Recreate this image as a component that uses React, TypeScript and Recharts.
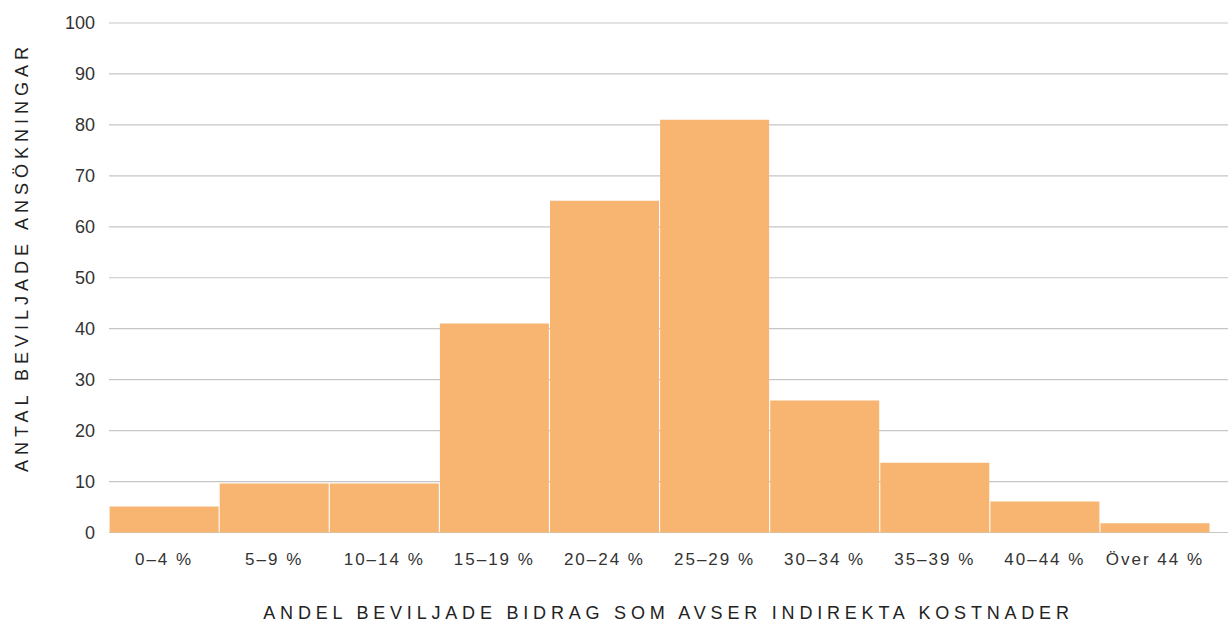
import { BarChart, Bar, XAxis, YAxis, CartesianGrid } from 'recharts';

const CATEGORIES = ['0–4 %', '5–9 %', '10–14 %', '15–19 %', '20–24 %', '25–29 %', '30–34 %', '35–39 %', '40–44 %', 'Över 44 %'];
const COUNTS = [5.1, 9.6, 9.6, 41, 65.1, 81, 25.9, 13.7, 6.1, 1.8];
const Y_TICKS = [0, 10, 20, 30, 40, 50, 60, 70, 80, 90, 100];

const FONT = '"Liberation Sans", Arial, sans-serif';

const data = CATEGORIES.map((name, i) => ({ name, value: COUNTS[i] }));

const YTitle = () => (
  <text
    x={22}
    y={257}
    transform='rotate(-90 22 257)'
    textAnchor='middle'
    dominantBaseline='central'
    fill='#222'
    style={{ fontFamily: FONT, fontSize: 18, letterSpacing: 5 }}
  >
    ANTAL BEVILJADE ANSÖKNINGAR
  </text>
);

export default function App() {
  return (
    <div style={{ position: 'absolute', left: 0, top: 0, width: 1228, height: 624, background: '#fff' }}>
      <BarChart
        width={1228}
        height={624}
        data={data}
        margin={{ top: 23, right: 0, bottom: 0, left: 0 }}
        barCategoryGap={0.6}
      >
        <CartesianGrid vertical={false} stroke='#c6c6c6' strokeWidth={1.2} />
        <XAxis
          dataKey='name'
          axisLine={false}
          tickLine={false}
          tickSize={0}
          tickMargin={20}
          height={91.5}
          padding={{ left: 0, right: 18 }}
          interval={0}
          tick={{ fill: '#333', fontSize: 17, fontFamily: FONT, letterSpacing: 2 }}
          label={{
            value: 'ANDEL BEVILJADE BIDRAG SOM AVSER INDIREKTA KOSTNADER',
            position: 'insideBottom',
            offset: 5,
            fill: '#222',
            style: { fontFamily: FONT, fontSize: 18, letterSpacing: 4.8 },
          }}
        />
        <YAxis
          domain={[0, 100]}
          ticks={Y_TICKS}
          axisLine={false}
          tickLine={false}
          tickSize={0}
          tickMargin={14}
          width={109}
          tick={{ fill: '#333', fontSize: 18, fontFamily: FONT }}
          label={{ content: () => <YTitle /> }}
        />
        <Bar dataKey='value' fill='#F7B571' isAnimationActive={false} />
      </BarChart>
    </div>
  );
}
